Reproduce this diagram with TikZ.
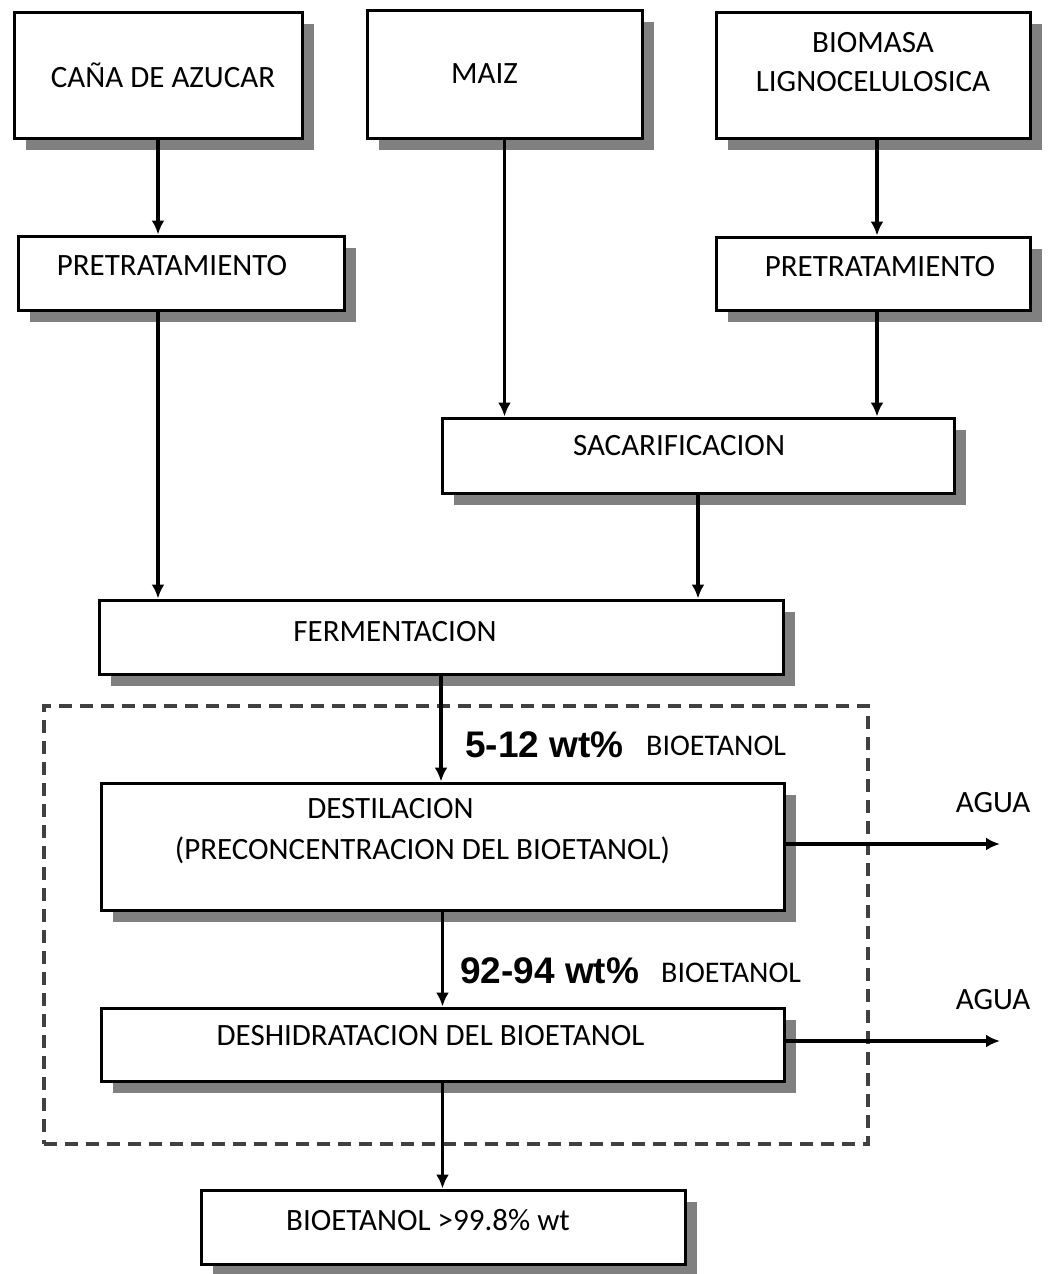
\documentclass[tikz,border=0pt]{standalone}
\usepackage{fontspec}
\setmainfont{Carlito}
\newfontfamily\arialf{Liberation Sans}
\usetikzlibrary{shadows,arrows.meta}
\begin{document}
\begin{tikzpicture}[x=1pt,y=-1pt,
  box/.style={draw=black,line width=3pt,fill=white,rectangle,inner sep=0pt,
    drop shadow={shadow xshift=12pt,shadow yshift=-12pt,fill=black!50,opacity=1},
    font=\fontsize{31}{34}\selectfont,align=center},
  txt/.style={font=\fontsize{31}{34}\selectfont,inner sep=0pt,align=center},
  arr/.style={line width=3.5pt,-{Latex[length=14pt,width=13pt]}},
  pct/.style={font=\arialf\bfseries\fontsize{37}{40}\selectfont,inner sep=0pt,anchor=base west},
  bio/.style={font=\fontsize{30}{33}\selectfont,inner sep=0pt,anchor=base west},
  grp/.style={draw=black!75,line width=3.5pt,dash pattern=on 13pt off 8pt}]
\useasboundingbox (0,0) rectangle (1053,1274);
\fill[white] (0,0) rectangle (1053,1274);

% dashed group
\node[grp,minimum width=824pt,minimum height=438pt,inner sep=0pt] (group) at (456,925) {};

\node[box,minimum width=288pt,minimum height=126pt] (cana) at (158,75)
  {\hspace*{10pt}CAÑA DE AZUCAR};
\node[box,minimum width=275pt,minimum height=128pt,
  label={[txt,xshift=-20pt]center:MAIZ}] (maiz) at (504.5,74) {};
\node[box,minimum width=314pt,minimum height=126pt,
  label={[txt,yshift=13pt]center:BIOMASA\\[5pt]LIGNOCELULOSICA}] (biomasa) at (873,75) {};
\node[box,minimum width=326pt,minimum height=74pt,
  label={[txt,xshift=-9pt,yshift=7pt]center:PRETRATAMIENTO}] (pre1) at (181,273) {};
\node[box,minimum width=314pt,minimum height=73pt,
  label={[txt,xshift=7pt,yshift=7pt]center:PRETRATAMIENTO}] (pre2) at (873,273.5) {};
\node[box,minimum width=512pt,minimum height=75pt,
  label={[txt,xshift=-19pt,yshift=10pt]center:SACARIFICACION}] (sac) at (698,455.5) {};
\node[box,minimum width=684pt,minimum height=74pt,
  label={[txt,xshift=-46pt,yshift=5pt]center:FERMENTACION}] (ferm) at (441,637) {};
\node[box,minimum width=683pt,minimum height=127pt,
  label={[txt,xshift=-52pt,yshift=38pt]center:DESTILACION},
  label={[txt,xshift=-20pt,yshift=-4pt]center:(PRECONCENTRACION DEL BIOETANOL)}] (dest) at (442.5,846.5) {};
\node[box,minimum width=683pt,minimum height=73pt,
  label={[txt,xshift=-12pt,yshift=9pt]center:DESHIDRATACION DEL BIOETANOL}] (desh) at (442.5,1044.5) {};
\node[box,minimum width=484pt,minimum height=74pt,
  label={[txt,xshift=-15pt,yshift=7pt]center:BIOETANOL >99.8\% wt}] (final) at (443,1227) {};

% connectors
\draw[arr] (cana.south) -- (cana.south |- pre1.north);
\draw[arr] (maiz.south) -- (maiz.south |- sac.north);
\draw[arr] ([xshift=4pt]biomasa.south) -- ([xshift=4pt]biomasa.south |- pre2.north);
\draw[arr] ([xshift=4pt]pre2.south) -- ([xshift=4pt]pre2.south |- sac.north);
\draw[arr] ([xshift=-23pt]pre1.south) -- ([xshift=-23pt]pre1.south |- ferm.north);
\draw[arr] (sac.south) -- (sac.south |- ferm.north);
\draw[arr] (ferm.south) -- (ferm.south |- dest.north);
\draw[arr] (dest.south) -- (dest.south |- desh.north);
\draw[arr] (desh.south) -- (desh.south |- final.north);

\coordinate (w1) at (1000,844);
\coordinate (w2) at (1000,1041);
\draw[arr] (dest.east |- w1) -- (w1);
\draw[arr] (desh.east |- w2) -- (w2);
\node[txt] (agua1) at (993,803) {AGUA};
\node[txt] (agua2) at (993,1000) {AGUA};

% concentration labels
\node[pct] (p1) at (465,757) {5-12 wt\%};
\node[bio] (b1) at (646,755) {BIOETANOL};
\node[pct] (p2) at (460,983) {92-94 wt\%};
\node[bio] (b2) at (661,982) {BIOETANOL};
\end{tikzpicture}
\end{document}
